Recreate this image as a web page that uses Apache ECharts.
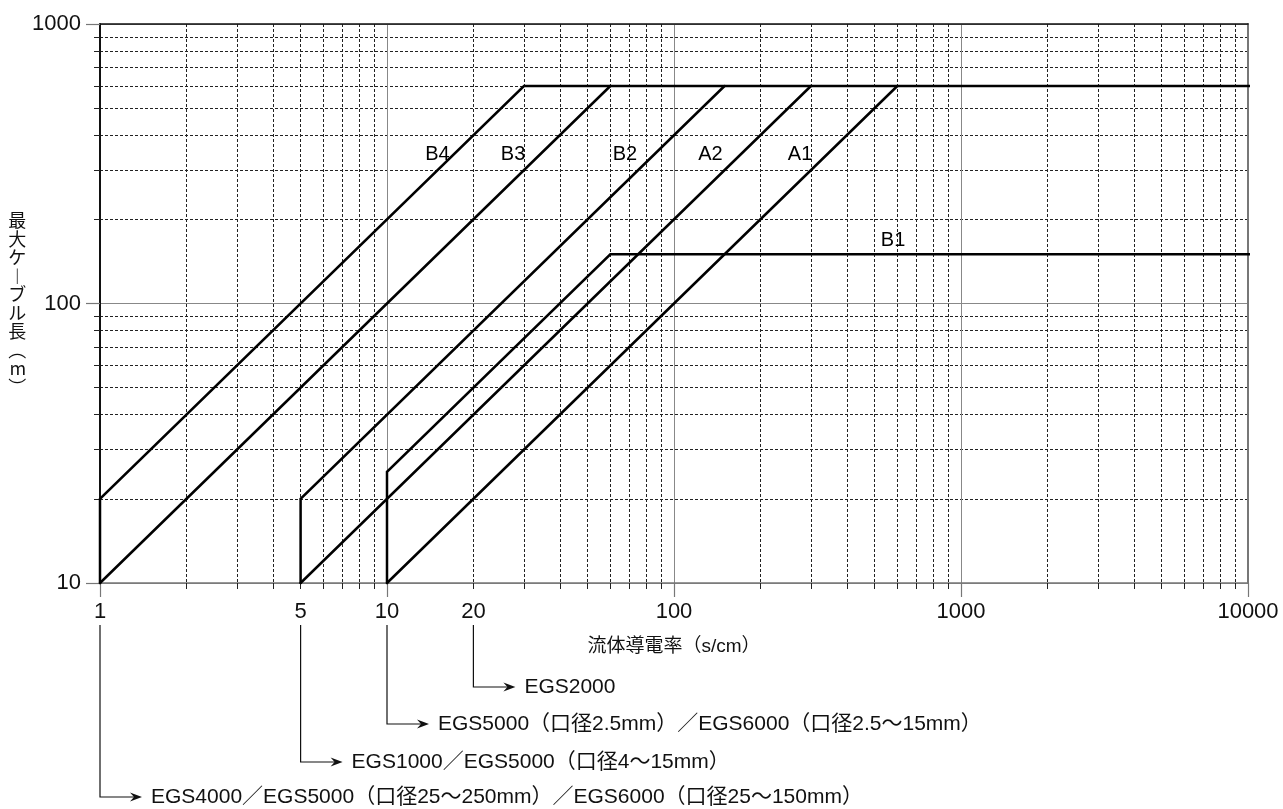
<!DOCTYPE html>
<html><head><meta charset="utf-8">
<script src="https://cdn.jsdelivr.net/npm/echarts@6/dist/echarts.min.js"></script>
<style>html,body{margin:0;padding:0;background:#fff}#c{width:1283px;height:809px}</style>
</head><body><div id="c"></div>
<script>
// ---- data ----
const xTickLabels = [1, 5, 10, 20, 100, 1000, 10000];
const xMajorTicks = [1, 10, 100, 1000, 10000];
const yTickLabels = [10, 100, 1000];
const B4 = [[1, 10], [1, 20], [30, 600], [12000, 600]];
const B3 = [[1, 10], [60, 600]];
const B2 = [[5, 10], [5, 20], [150, 600]];
const A2 = [[5, 10], [300, 600]];
const B1 = [[10, 10], [10, 25], [60, 150], [12000, 150]];
const A1 = [[10, 10], [600, 600]];
const lineNames = ['B4', 'B3', 'B2', 'A2', 'B1', 'A1'];
const lineData = [B4, B3, B2, A2, B1, A1];
const labelNames = ['B4', 'B3', 'B2', 'A2', 'A1', 'B1'];
const labelAnchors = [[15, 340], [27.5, 340], [67.5, 340], [134, 340], [275, 340], [580, 168]];
const productStarts = [20, 10, 5, 1];
const productTexts = [
  'EGS2000',
  'EGS5000（口径2.5mm）／EGS6000（口径2.5～15mm）',
  'EGS1000／EGS5000（口径4～15mm）',
  'EGS4000／EGS5000（口径25～250mm）／EGS6000（口径25～150mm）'
];
const xName = '流体導電率（s/cm）';
const yName = '最大ケーブル長（m）';

// ---- chart ----
const FONT = "'Liberation Sans','Noto Sans CJK JP',sans-serif";
const verticalMap = { 'ー': '︱', '（': '︵', '）': '︶' };
const yNameVertical = Array.from(yName).map(c => verticalMap[c] || c).join('\n');

const chart = echarts.init(document.getElementById('c'), null, { renderer: 'canvas' });

const series = lineNames.map((n, i) => ({
  name: n, type: 'line', data: lineData[i], showSymbol: false, symbol: 'none',
  clip: false, silent: true, animation: false, z: 5,
  lineStyle: { color: '#000', width: 2.5, cap: 'round', join: 'miter' }
}));
series.push({
  type: 'scatter', silent: true, animation: false, symbolSize: 0.1, z: 6,
  itemStyle: { color: '#fff', opacity: 1 },
  data: labelNames.map((n, i) => ({ name: n, value: labelAnchors[i] })),
  label: {
    show: true, position: [0, 0], align: 'center', verticalAlign: 'middle',
    formatter: '{b}', fontSize: 20, color: '#000', fontFamily: FONT,
    textBorderWidth: 0
  }
});

chart.setOption({
  animation: false,
  backgroundColor: '#fff',
  textStyle: { fontFamily: FONT },
  grid: { left: 100, right: 35, top: 24, bottom: 226, containLabel: false },
  xAxis: [{
    type: 'log', logBase: 10, min: 1, max: 10000, position: 'bottom',
    name: xName, nameLocation: 'middle', nameGap: 54,
    nameTextStyle: { fontSize: 19, color: '#111', fontFamily: FONT },
    axisLine: { show: true, onZero: false, lineStyle: { color: '#777', width: 1.5 } },
    axisTick: { show: true, length: 14, customValues: xMajorTicks, lineStyle: { color: '#777', width: 1.2 } },
    minorTick: { show: true, splitNumber: 9, length: 6, lineStyle: { color: '#222', width: 1 } },
    axisLabel: { customValues: xTickLabels, fontSize: 22, color: '#111', margin: 18, fontFamily: FONT, formatter: v => String(v) },
    splitLine: { show: true, lineStyle: { color: '#888', width: 1 } },
    minorSplitLine: { show: true, lineStyle: { color: '#222', width: 1, type: [3, 2] } }
  }, {
    type: 'log', logBase: 10, min: 1, max: 10000, position: 'top',
    axisLine: { show: true, onZero: false, lineStyle: { color: '#111', width: 1.5 } },
    axisTick: { show: false }, axisLabel: { show: false }, splitLine: { show: false }
  }],
  yAxis: [{
    type: 'log', logBase: 10, min: 10, max: 1000, position: 'left',
    name: yNameVertical, nameLocation: 'middle', nameRotate: 0, nameGap: 63,
    nameTextStyle: { fontSize: 18, lineHeight: 18.5, color: '#111', fontFamily: "'Noto Sans CJK JP',sans-serif" },
    axisLine: { show: true, onZero: false, lineStyle: { color: '#111', width: 2 } },
    axisTick: { show: true, length: 14, customValues: yTickLabels, lineStyle: { color: '#777', width: 1.2 } },
    minorTick: { show: true, splitNumber: 9, length: 6, lineStyle: { color: '#222', width: 1 } },
    axisLabel: { customValues: yTickLabels, fontSize: 22, color: '#111', margin: 19, fontFamily: FONT, formatter: v => String(v) },
    splitLine: { show: true, lineStyle: { color: '#888', width: 1 } },
    minorSplitLine: { show: true, lineStyle: { color: '#222', width: 1, type: [3, 2] } }
  }, {
    type: 'log', logBase: 10, min: 10, max: 1000, position: 'right',
    axisLine: { show: true, onZero: false, lineStyle: { color: '#777', width: 2 } },
    axisTick: { show: false }, axisLabel: { show: false }, splitLine: { show: false }
  }],
  series: series
});

// ---- product leader lines (anchored to the x axis scale) ----
const rowY = [687, 724, 762, 797];
const leaderTop = 625;
const graphics = [];
productStarts.forEach((v, i) => {
  const px = chart.convertToPixel({ xAxisIndex: 0 }, v);
  const y = rowY[i];
  const tip = px + 42;
  graphics.push({
    type: 'polyline', silent: true,
    shape: { points: [[px, leaderTop], [px, y], [tip - 6, y]] },
    style: { stroke: '#111', lineWidth: 1.2, fill: null }
  });
  graphics.push({
    type: 'polygon', silent: true,
    shape: { points: [[tip, y], [tip - 12, y - 4.5], [tip - 8, y], [tip - 12, y + 4.5]] },
    style: { fill: '#111' }
  });
  graphics.push({
    type: 'text', silent: true, x: tip + 9, y: y,
    style: { text: productTexts[i], fill: '#111', font: '21px ' + FONT, verticalAlign: 'middle' }
  });
});
chart.setOption({ graphic: graphics });
</script>
</body></html>
